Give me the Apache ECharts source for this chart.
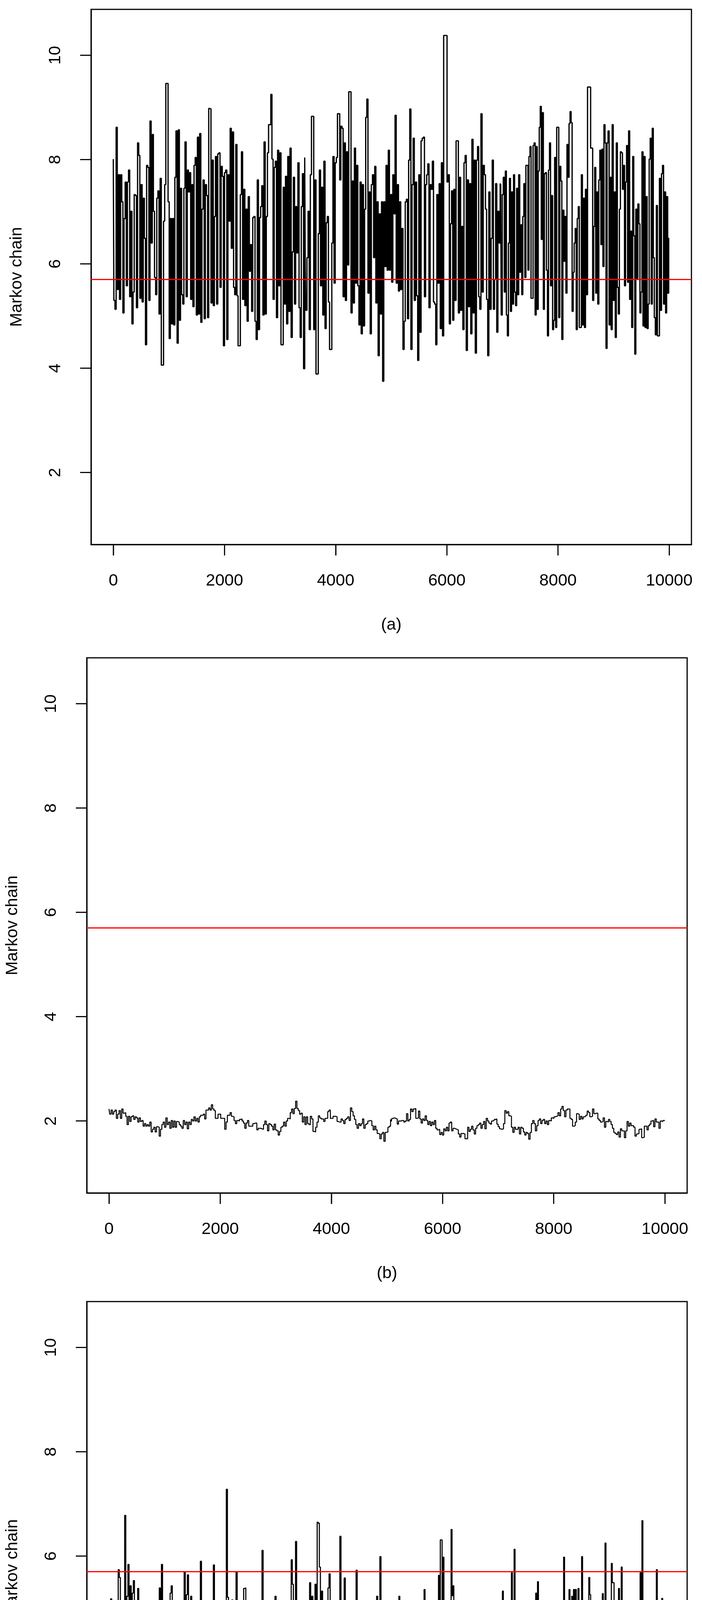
<!DOCTYPE html>
<html>
<head>
<meta charset="utf-8">
<title>Markov chain traces</title>
<script src="https://cdn.jsdelivr.net/npm/echarts@6/dist/echarts.min.js"></script>
<style>
  html, body { margin: 0; padding: 0; background: #fff; }
  #chart { width: 1796px; height: 4941px; }
</style>
</head>
<body>
<div id="chart"></div>
<script>
// reference value drawn as the red horizontal line
const targetValue = 5.7

const xTicks = [0, 2000, 4000, 6000, 8000, 10000]
const yTicks = [2, 4, 6, 8, 10]
const panelLabels = ['(a)', '(b)', '(c)']

// iteration boundaries of the pieces each trace was read in
const boundsA = [0, 3453, 6969, 10000]
const boundsBC = [0, 5077, 10000]

// (a) values, in order
const traceA1 = [8.01, 5.30, 5.13, 8.62, 5.51, 7.71, 5.32, 7.71, 7.19, 5.06, 6.87, 7.57, 5.58, 7.57, 7.80, 5.37,
  7.01, 4.85, 5.46, 7.33, 7.31, 5.16, 8.32, 8.08, 5.34, 7.52, 5.27, 7.26, 6.49, 4.45, 7.89, 7.85, 5.30, 8.74,
  6.40, 8.48, 7.01, 5.74, 5.41, 7.26, 7.40, 5.04, 7.64, 4.06, 4.06, 6.82, 7.52, 9.46, 9.46, 7.19, 4.57, 6.87,
  4.85, 6.87, 4.83, 7.66, 8.55, 4.48, 8.57, 4.92, 7.45, 5.41, 5.23, 7.45, 8.34, 5.37, 7.80, 7.38, 7.75, 5.32,
  7.52, 5.18, 7.89, 8.04, 5.02, 8.43, 5.04, 8.50, 4.88, 7.05, 7.61, 4.95, 7.52, 7.31, 4.97, 8.98, 8.97, 5.25,
  7.99, 5.20, 6.91, 8.06, 5.23, 8.11, 8.13, 5.55, 7.87, 7.68, 4.43, 7.75, 7.80, 4.55, 7.71, 6.82, 8.60, 6.30,
  8.53, 5.55, 5.41, 8.29, 5.39, 4.43, 4.43, 7.33, 8.15, 5.32, 7.43, 5.20, 7.05, 4.90, 7.29, 5.86, 6.37, 5.09,
  6.89, 6.91, 4.90, 4.55, 7.61, 4.74, 6.89, 7.10, 7.50, 5.02, 8.34, 5.04, 6.91, 8.13, 8.67, 8.67, 9.25, 8.01,
  5.32, 7.85, 7.97, 4.97, 8.18, 5.58, 8.13, 4.45, 4.45, 7.47, 5.23, 7.68, 4.85, 8.06, 5.09, 8.22, 4.59, 6.23,
  7.66, 5.23, 7.10, 6.21, 7.94, 5.16, 4.59, 7.10, 7.73, 3.99, 8.04]
const traceA2 = [5.93, 5.11, 6.12, 7.01, 4.74, 7.71, 8.83, 8.83, 4.74, 7.61, 3.89, 3.89, 6.58, 7.80, 5.58, 7.47,
  5.02, 7.97, 4.76, 6.79, 6.91, 5.27, 4.36, 4.36, 6.40, 8.06, 5.63, 7.94, 8.04, 8.88, 8.88, 7.61, 8.64, 8.60,
  5.37, 8.32, 5.30, 8.15, 5.98, 9.30, 9.30, 5.06, 7.59, 5.25, 8.22, 5.63, 7.89, 5.58, 4.83, 7.57, 4.66, 7.52,
  4.81, 7.05, 8.81, 9.16, 5.44, 7.38, 4.66, 7.52, 7.71, 6.12, 7.87, 5.25, 7.19, 4.24, 6.96, 5.04, 7.19, 3.75,
  7.19, 5.95, 7.89, 5.88, 8.18, 5.88, 7.33, 5.65, 7.71, 6.96, 8.85, 5.63, 7.52, 5.48, 7.19, 5.51, 6.68, 4.36,
  4.90, 7.19, 7.24, 4.95, 7.99, 8.97, 4.36, 7.52, 8.41, 5.30, 7.57, 5.39, 4.15, 7.71, 4.69, 8.36, 8.41, 8.43,
  5.37, 7.52, 7.71, 7.92, 5.16, 7.52, 7.43, 7.97, 5.27, 5.23, 4.45, 7.33, 5.63, 7.54, 4.76, 7.94, 4.62, 10.38,
  10.38, 10.38, 7.57, 7.71, 4.85, 6.77, 7.40, 4.92, 7.43, 5.30, 8.36, 8.36, 5.06, 7.66, 5.11, 6.72, 4.74, 7.94,
  8.08, 4.34, 7.61, 5.18, 7.54, 4.66, 8.39, 5.06, 7.99, 4.29, 7.99, 8.25, 5.37, 5.13, 8.88, 5.46, 7.89, 7.71,
  7.05, 5.32, 4.24, 7.38, 5.13, 6.49, 7.99, 5.13, 5.70, 7.54, 4.69, 7.01, 6.40, 7.54]
const traceA3 = [7.52, 5.02, 7.33, 7.66, 5.46, 7.78, 5.02, 4.62, 6.40, 7.64, 5.09, 7.38, 5.23, 7.71, 5.46, 5.20,
  7.45, 5.41, 7.71, 5.84, 6.75, 5.41, 6.91, 7.54, 5.74, 7.89, 7.89, 5.88, 8.06, 8.25, 5.34, 5.34, 8.27, 8.32,
  5.02, 8.25, 5.13, 7.78, 8.62, 9.02, 6.47, 8.90, 5.13, 7.73, 7.75, 5.88, 4.62, 7.80, 8.32, 5.58, 7.31, 4.74,
  4.92, 8.04, 4.78, 8.62, 8.62, 4.97, 7.87, 7.59, 4.55, 7.03, 6.05, 6.91, 5.44, 8.29, 7.66, 8.69, 8.92, 8.71,
  5.09, 5.84, 6.40, 6.68, 4.74, 6.87, 7.10, 4.78, 4.78, 7.71, 4.83, 7.26, 4.78, 7.43, 5.41, 9.39, 9.39, 9.39,
  8.22, 8.22, 5.30, 6.72, 7.85, 5.44, 7.38, 5.23, 7.61, 8.18, 6.37, 8.20, 5.95, 8.67, 8.32, 4.38, 8.32, 8.55,
  4.83, 7.66, 4.74, 8.67, 5.30, 7.38, 4.59, 8.32, 5.55, 5.04, 7.05, 8.15, 8.13, 7.43, 7.89, 5.58, 7.57, 8.27,
  5.65, 8.55, 5.32, 6.63, 4.78, 8.06, 6.54, 4.27, 7.05, 5.72, 7.15, 6.77, 5.06, 5.46, 8.15, 4.81, 8.06, 4.78,
  7.29, 4.76, 5.23, 8.01, 8.41, 5.23, 8.60, 6.12, 4.97, 4.64, 7.12, 4.62, 4.62, 7.64, 5.11, 7.73, 7.89, 5.23,
  7.38, 5.06, 7.29, 5.44, 6.49]

// (b)
const traceB1 = [2.23, 2.13, 2.21, 2.13, 2.18, 2.21, 2.05, 2.13, 2.20, 2.05, 2.23, 2.15, 2.16, 2.09, 1.93, 2.09,
  1.99, 2.08, 2.10, 2.03, 2.08, 2.06, 1.98, 2.06, 1.99, 2.01, 1.90, 1.95, 1.90, 1.93, 1.90, 1.98, 1.79, 1.84,
  1.88, 1.79, 1.89, 1.88, 1.71, 1.84, 1.93, 1.98, 1.88, 2.06, 1.93, 1.98, 1.86, 2.01, 1.88, 2.00, 1.88, 1.99,
  1.98, 1.93, 1.90, 1.86, 2.01, 1.93, 1.98, 1.85, 1.98, 1.93, 2.03, 2.00, 2.08, 2.00, 2.05, 1.98, 2.08, 2.11,
  2.11, 2.13, 2.04, 2.21, 2.21, 2.25, 2.21, 2.31, 2.23, 2.20, 2.05, 2.05, 2.13, 2.13, 2.05, 2.05, 2.05, 1.84,
  1.98, 2.11, 2.11, 2.16, 2.09, 2.08, 2.01, 1.95, 2.01, 2.00, 2.03, 2.04, 2.00, 1.96, 1.86, 1.96, 2.01, 1.90,
  1.90, 1.90, 1.95, 1.96, 1.96, 1.83, 1.86, 1.86, 1.85, 1.84, 1.93, 2.00, 1.93, 1.81, 1.95, 1.93, 1.90, 1.83,
  1.94, 1.83, 1.81, 1.73, 1.80, 1.88, 1.90, 1.98, 1.90, 2.00, 2.05, 2.04, 2.16, 2.23, 2.14, 2.24, 2.38, 2.24,
  2.20, 2.13, 2.15, 1.98, 2.08, 1.93, 2.08, 1.95, 1.93, 2.09, 2.04, 1.80, 1.79, 1.88, 1.98, 2.10, 2.06, 2.04,
  2.04, 1.99, 2.05, 2.05, 2.18, 2.21, 2.05, 2.05, 2.09, 2.09, 2.08, 1.99, 1.98, 1.98, 2.04, 2.01, 1.95, 2.03,
  2.05, 2.08, 2.01, 2.25, 2.18, 2.10, 2.03, 1.93, 1.86, 1.95, 1.91, 1.95, 2.04, 1.86, 1.93, 1.95, 2.00, 2.01,
  2.00, 1.91, 1.83, 1.90, 1.83, 1.76, 1.75, 1.66, 1.75, 1.78, 1.61, 1.78, 1.79, 1.88, 1.90, 2.03]
const traceB2 = [1.99, 2.05, 2.06, 2.05, 2.04, 1.94, 2.00, 2.00, 2.01, 2.01, 1.98, 2.00, 2.14, 2.00, 2.03, 2.23,
  2.18, 2.23, 2.24, 2.05, 2.06, 2.19, 2.04, 1.96, 2.04, 2.01, 2.10, 2.01, 1.93, 1.99, 1.91, 1.98, 1.93, 2.01,
  1.86, 1.83, 1.84, 1.74, 1.78, 1.73, 1.85, 1.81, 1.88, 1.81, 1.96, 1.98, 1.81, 1.86, 1.85, 1.84, 1.83, 1.75,
  1.69, 1.76, 1.76, 1.75, 1.66, 1.66, 1.88, 1.80, 1.84, 1.90, 1.83, 1.75, 1.86, 1.91, 1.93, 1.96, 1.86, 1.93,
  1.99, 1.85, 2.05, 2.00, 1.96, 1.94, 2.00, 2.01, 2.03, 2.04, 1.94, 1.89, 1.85, 1.84, 1.85, 1.95, 2.20, 2.15,
  2.18, 2.10, 2.09, 1.88, 1.78, 1.88, 1.84, 1.84, 1.88, 1.75, 1.88, 1.86, 1.79, 1.73, 1.78, 1.76, 1.65, 1.78,
  1.95, 2.01, 1.95, 1.81, 1.91, 2.01, 2.04, 1.95, 2.01, 2.03, 1.95, 2.00, 1.93, 2.01, 2.00, 2.06, 2.05, 2.08,
  2.09, 2.10, 2.16, 2.10, 2.23, 2.28, 2.20, 2.08, 2.21, 2.23, 2.23, 2.05, 2.03, 1.90, 1.91, 1.98, 2.14, 2.13,
  2.03, 2.09, 2.04, 2.08, 2.09, 2.11, 2.19, 2.16, 2.08, 2.09, 2.23, 2.14, 2.15, 2.15, 2.04, 2.01, 1.98, 1.99,
  2.06, 1.88, 1.99, 1.98, 2.03, 1.99, 1.93, 1.86, 1.78, 1.76, 1.74, 1.79, 1.69, 1.85, 1.81, 1.81, 1.68, 1.81,
  1.99, 1.90, 1.96, 1.91, 1.91, 1.88, 1.71, 1.75, 1.76, 1.84, 1.85, 1.68, 1.69, 1.90, 1.90, 1.83, 1.91, 1.94,
  2.00, 2.01, 1.89, 2.04, 1.98, 1.98, 1.86, 2.00, 1.99, 2.01, 2.01]

// (c)
const traceC1 = [4.12, 4.66, 5.18, 4.36, 4.93, 3.72, 3.61, 3.61, 4.46, 5.74, 5.59, 3.62, 3.86, 3.29, 4.52, 6.78,
  4.19, 5.23, 5.84, 4.14, 5.43, 4.94, 5.29, 5.53, 4.34, 3.76, 4.19, 5.38, 3.22, 2.65, 5.08, 3.45, 4.16, 3.92,
  4.36, 3.10, 3.52, 4.12, 3.45, 4.66, 3.52, 4.26, 3.22, 3.20, 3.25, 3.67, 4.93, 5.39, 4.89, 5.84, 5.03, 4.06,
  3.45, 4.59, 3.25, 3.96, 4.99, 5.29, 5.43, 3.12, 4.12, 2.85, 3.42, 4.27, 3.62, 3.45, 3.66, 4.74, 3.79, 3.17,
  5.69, 3.29, 5.26, 5.64, 3.34, 4.83, 5.23, 4.16, 2.94, 3.59, 3.55, 5.03, 4.62, 4.76, 3.55, 5.90, 3.79, 4.09,
  3.12, 3.12, 3.69, 3.89, 3.52, 4.02, 3.50, 3.15, 4.22, 5.83, 3.50, 4.72, 4.01, 4.69, 3.22, 4.31, 4.32, 3.59,
  4.22, 3.69, 4.19, 7.28, 5.21, 4.29, 4.52, 3.49, 5.16, 4.06, 3.34, 4.54, 5.69, 3.99, 4.78, 3.55, 4.56, 4.19,
  5.11, 5.38, 5.39, 3.42, 3.34, 4.98, 3.66, 4.72, 3.62, 4.83, 3.54, 3.99, 3.62, 4.19, 4.89, 4.02, 4.49, 3.99,
  6.11, 3.89, 3.34, 4.22, 4.16, 3.42, 4.59, 3.82, 3.71, 3.71, 5.08, 4.46, 5.23, 4.22, 4.83, 4.47, 5.06, 3.66,
  4.66, 4.47, 4.84, 3.92, 4.17, 2.44, 2.65, 2.69, 3.05, 5.93, 5.46, 4.66, 4.22, 6.28, 4.16, 4.89, 4.26, 5.14,
  4.59, 5.03, 3.76, 4.59, 3.42, 3.76, 4.06, 3.79, 5.49, 4.26, 5.23, 4.06, 5.13, 5.46, 4.59, 6.65, 6.63, 5.79,
  4.04, 5.33, 4.59, 3.96, 4.59, 3.84, 3.49, 5.39, 5.66, 4.04, 5.06, 4.02, 2.92, 4.56, 4.02, 4.12, 3.86, 3.15,
  6.38, 4.09, 4.72, 3.10, 5.58, 3.92, 5.06, 3.99, 4.96, 3.64, 4.06, 3.86, 4.86, 3.79, 4.66, 5.73, 2.99, 3.39,
  5.06, 3.82, 4.83, 3.89, 4.83, 3.92, 5.14, 3.17, 3.92, 2.59, 2.79, 2.79, 2.97, 2.97, 3.82, 4.07, 5.23, 5.11,
  4.26, 5.99, 4.83, 4.19, 4.66, 4.09, 3.19, 3.15, 4.19, 2.84, 3.67, 4.51]
const traceC2 = [3.79, 4.37, 3.92, 3.52, 3.02, 4.31, 4.09, 4.98, 3.32, 5.23, 3.67, 3.35, 3.72, 3.59, 4.47, 2.49,
  3.92, 4.39, 3.32, 2.99, 3.76, 2.97, 4.14, 3.81, 4.76, 3.81, 3.92, 4.67, 4.09, 4.57, 3.37, 3.09, 3.29, 3.10,
  3.40, 4.56, 3.92, 5.36, 4.42, 4.62, 4.56, 3.92, 3.47, 3.19, 3.42, 2.80, 3.45, 3.29, 3.45, 4.42, 4.44, 4.91,
  3.99, 5.63, 4.99, 6.31, 6.31, 5.06, 5.98, 4.17, 4.64, 4.12, 4.66, 4.24, 4.78, 3.62, 4.02, 6.51, 5.24, 5.43,
  3.79, 4.04, 4.09, 4.02, 5.14, 3.69, 4.14, 3.22, 4.86, 3.40, 4.24, 3.72, 4.74, 3.72, 4.61, 3.97, 4.32, 4.32,
  3.45, 2.90, 2.90, 2.79, 2.82, 2.69, 3.15, 2.92, 5.13, 3.45, 3.89, 3.17, 4.93, 3.79, 4.11, 3.42, 3.42, 3.67,
  3.12, 3.44, 2.70, 2.70, 2.95, 2.95, 3.55, 3.39, 3.49, 3.99, 3.99, 4.91, 3.24, 4.62, 3.79, 3.67, 5.01, 3.49,
  5.33, 3.79, 3.82, 4.07, 3.79, 4.83, 2.72, 4.47, 3.81, 4.32, 5.68, 3.64, 4.02, 6.13, 3.92, 3.24, 3.99, 4.22,
  3.99, 3.49, 3.27, 4.26, 3.37, 3.45, 3.37, 3.37, 4.09, 4.93, 3.76, 5.13, 3.86, 4.91, 4.02, 5.01, 4.31, 4.98,
  3.55, 5.29, 4.31, 5.51, 2.74, 4.42, 3.64, 3.86, 3.61, 4.27, 4.46, 4.56, 4.57, 4.98, 4.16, 2.92, 2.92, 3.32,
  3.19, 3.54, 3.20, 4.12, 4.26, 5.06, 4.83, 4.37, 4.64, 4.26, 3.84, 3.57, 4.49, 4.74, 5.98, 4.09, 4.66, 3.30,
  4.69, 3.79, 5.36, 3.74, 4.78, 5.23, 4.09, 5.36, 4.26, 5.36, 4.07, 4.67, 5.38, 3.89, 5.09, 3.44, 5.99, 3.86,
  3.14, 2.99, 3.17, 3.50, 4.54, 4.59, 5.59, 5.26, 3.92, 4.76, 4.06, 4.86, 4.11, 3.67, 4.39, 4.94, 3.94, 5.08,
  3.66, 4.71, 3.92, 5.28, 4.06, 4.11, 6.25, 4.56, 3.62, 4.09, 4.11, 4.22, 3.91, 5.86, 5.49, 5.49, 4.54, 4.72,
  4.36, 4.16, 3.99, 5.38, 4.86, 5.13, 5.79, 4.62, 4.11, 3.57, 3.79, 4.46, 4.39, 4.91, 4.51, 4.06, 3.99, 3.40,
  3.39, 4.74, 3.37, 3.37, 4.29, 4.11, 4.61, 3.52, 4.99, 5.68, 4.37, 6.68, 4.12, 3.81, 4.99, 3.86, 4.67, 3.66,
  4.11, 3.82, 4.67, 3.09, 4.66, 4.74, 3.89, 4.76, 3.61, 5.74, 3.42, 4.39, 3.15, 3.66, 4.11, 5.19, 4.46, 4.69,
  4.59]

// spread each piece evenly over its iteration range
function spread(pieces, bounds) {
  const out = []
  pieces.forEach((vals, k) => {
    const a = bounds[k], b = bounds[k + 1]
    vals.forEach((v, i) => out.push([a + i * (b - a) / (vals.length - 1), v]))
  })
  return out
}

const traces = [
  spread([traceA1, traceA2, traceA3], boundsA),
  spread([traceB1, traceB2], boundsBC),
  spread([traceC1, traceC2], boundsBC)
]
const traceWidths = [3.2, 2.5, 2.8]

// plot boxes, in page pixels
const boxes = [
  { left: 233, top: 24 },
  { left: 222, top: 1684 },
  { left: 222, top: 3332 }
]
const boxW = 1536
const boxH = 1370
const xMin = -400, xMax = 10400
const yMin = 0.62, yMax = 10.88
const tickLen = 28

const font = { fontFamily: 'Liberation Sans, Arial, sans-serif', fontSize: 43, color: '#000' }
const axisStroke = { color: '#000', width: 3 }
const tickOpt = { show: true, inside: false, length: tickLen, lineStyle: { color: '#000', width: 2.5 } }

const chart = echarts.init(document.getElementById('chart'), null, { renderer: 'canvas' })

chart.setOption({
  animation: false,
  backgroundColor: '#fff',
  grid: boxes.map(b => ({
    left: b.left, top: b.top, width: boxW, height: boxH,
    show: true, borderColor: '#000', borderWidth: 3, backgroundColor: 'transparent',
    outerBoundsMode: 'none'
  })),
  xAxis: boxes.map((b, i) => ({
    type: 'value', gridIndex: i, min: xMin, max: xMax,
    name: panelLabels[i], nameLocation: 'middle', nameGap: 185,
    nameTextStyle: font,
    axisLine: { show: true, onZero: false, lineStyle: axisStroke },
    splitLine: { show: false },
    axisTick: { ...tickOpt, customValues: xTicks },
    axisLabel: { ...font, margin: 72, customValues: xTicks, formatter: v => String(v) }
  })),
  yAxis: boxes.map((b, i) => ({
    type: 'value', gridIndex: i, min: yMin, max: yMax,
    name: 'Markov chain', nameLocation: 'middle', nameGap: 168, nameRotate: 90,
    nameTextStyle: font,
    axisLine: { show: true, onZero: false, lineStyle: axisStroke },
    splitLine: { show: false },
    axisTick: { ...tickOpt, customValues: yTicks },
    axisLabel: { ...font, rotate: 90, margin: 69, customValues: yTicks, formatter: v => String(v) }
  })),
  series: traces.map((data, i) => ({
    type: 'line', xAxisIndex: i, yAxisIndex: i,
    data, step: 'middle', showSymbol: false, symbol: 'none',
    sampling: null, silent: true,
    lineStyle: { color: '#000', width: traceWidths[i] },
    markLine: {
      silent: true, symbol: 'none', label: { show: false },
      lineStyle: { color: '#ff0000', width: 3, type: 'solid' },
      data: [{ yAxis: targetValue }]
    }
  }))
})

// outward tick marks again as graphics, placed through each grid's scales
const tickMarks = []
boxes.forEach((b, i) => {
  xTicks.forEach(t => {
    const p = chart.convertToPixel({ gridIndex: i }, [t, yMin])
    if (!p) return
    tickMarks.push({ type: 'line', silent: true, z: 50,
      shape: { x1: p[0], y1: p[1], x2: p[0], y2: p[1] + tickLen },
      style: { stroke: '#000', lineWidth: 2.5 } })
  })
  yTicks.forEach(t => {
    const p = chart.convertToPixel({ gridIndex: i }, [xMin, t])
    if (!p) return
    tickMarks.push({ type: 'line', silent: true, z: 50,
      shape: { x1: p[0] - tickLen, y1: p[1], x2: p[0], y2: p[1] },
      style: { stroke: '#000', lineWidth: 2.5 } })
  })
})
chart.setOption({ graphic: tickMarks })
</script>
</body>
</html>
